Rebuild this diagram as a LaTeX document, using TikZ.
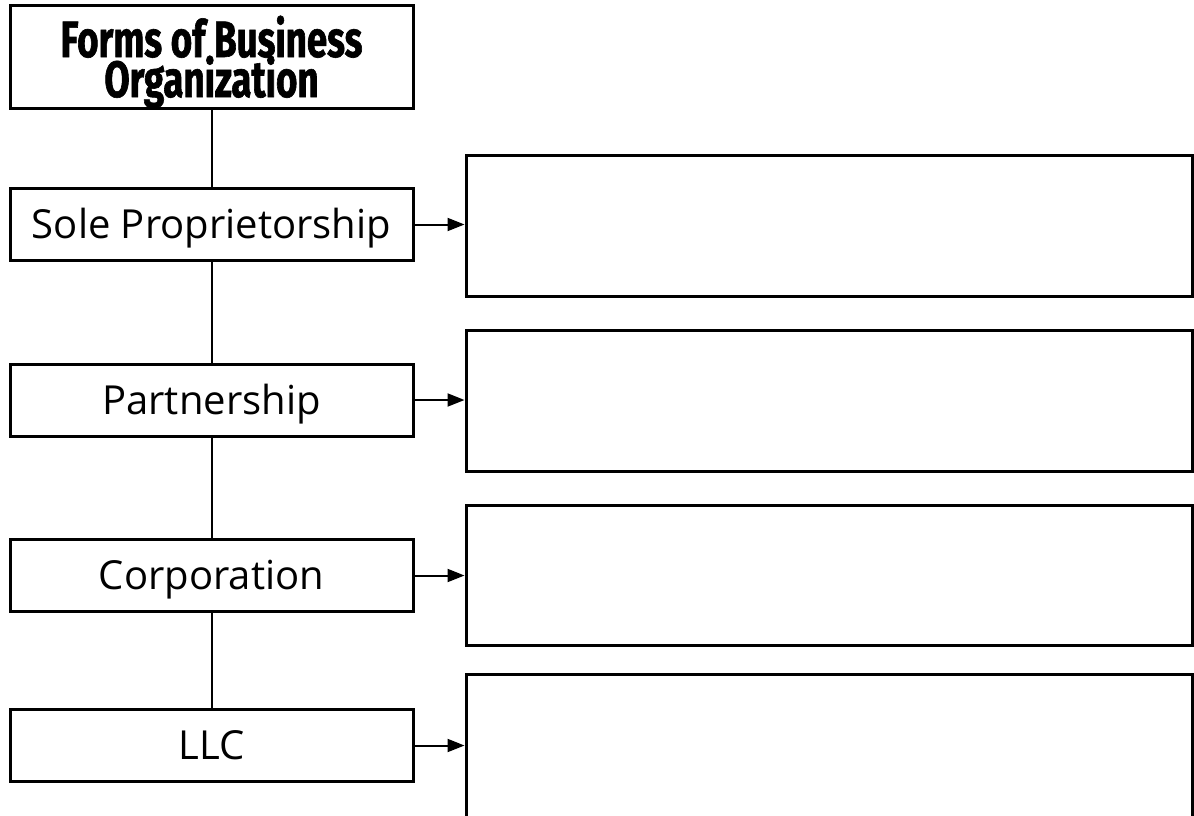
\documentclass[tikz,border=0pt]{standalone}
\usepackage{fontspec}
\setmainfont{Open Sans}
\newfontfamily\titlefont[FakeStretch=0.72,FakeBold=1.2]{Fira Sans}
\usetikzlibrary{arrows.meta}
\begin{document}
\begin{tikzpicture}[x=1pt,y=-1pt,
  leftbox/.style={draw,line width=3pt,minimum width=403pt,minimum height=72pt,inner sep=0pt,text height=28pt,text depth=0pt,font=\fontsize{40}{46}\selectfont},
  rightbox/.style={draw,line width=3pt,minimum width=726pt,inner sep=0pt},
  titleline/.style={inner sep=0pt,text height=34pt,text depth=0pt,font=\titlefont\bfseries\fontsize{51}{51}\selectfont},
  conn/.style={line width=2pt},
  arr/.style={line width=2pt,-{Triangle[length=17pt,width=13pt]}}]
\useasboundingbox (0,0) rectangle (1194,815);
\clip (0,0) rectangle (1194,815);
\node[draw,line width=3pt,minimum width=403pt,minimum height=103pt,inner sep=0pt] (title) at (211.5,56.5) {};
\node[titleline,anchor=base] (titleA) at (211.5,57) {Forms of Business};
\node[titleline,anchor=base] (titleB) at (211.5,97) {Organization};
\node[leftbox] (sole) at (211.5,224.5) {Sole Proprietorship};
\node[leftbox] (part) at (211.5,400) {Partnership};
\node[leftbox] (corp) at (211.5,575.5) {Corporation};
\node[leftbox] (llc) at (211.5,745.5) {LLC};
\node[rightbox,minimum height=141pt] (r1) at (829,225.5) {};
\node[rightbox,minimum height=141pt] (r2) at (829,400.5) {};
\node[rightbox,minimum height=140pt] (r3) at (829,575) {};
\node[rightbox,minimum height=144pt] (r4) at (829,746) {};
\draw[conn] (title.south) -- (sole.north);
\draw[conn] (sole.south) -- (part.north);
\draw[conn] (part.south) -- (corp.north);
\draw[conn] (corp.south) -- (llc.north);
\draw[arr] (sole.east) -- (r1.west |- sole.east);
\draw[arr] (part.east) -- (r2.west |- part.east);
\draw[arr] (corp.east) -- (r3.west |- corp.east);
\draw[arr] (llc.east) -- (r4.west |- llc.east);
\end{tikzpicture}
\end{document}
